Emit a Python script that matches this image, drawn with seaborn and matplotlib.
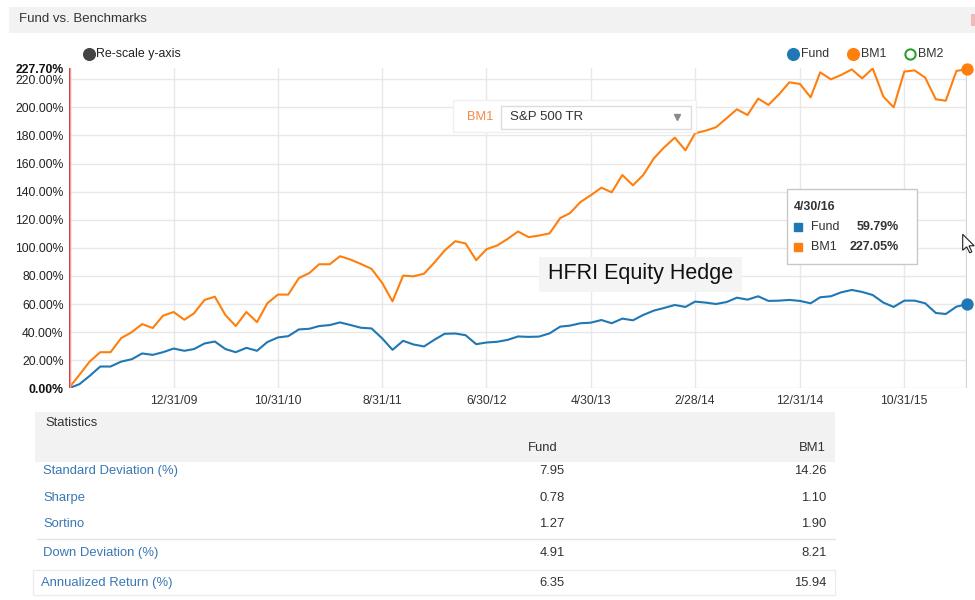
import pandas as pd
import matplotlib
matplotlib.use("Agg")
import matplotlib.pyplot as plt
import seaborn as sns
from matplotlib.patches import Rectangle, Polygon
from matplotlib.lines import Line2D

W, H = 975, 600

# monthly cumulative returns (%), Feb 2009 .. Apr 2016
dates = pd.date_range("2009-02-28", periods=87, freq=pd.offsets.MonthEnd())
fund = [0, 2.9, 8.8, 15.5, 15.5, 19.0, 20.7, 24.8, 23.8, 25.7,
        28.3, 26.7, 27.9, 31.9, 33.3, 27.9, 25.7, 28.8, 26.7, 32.9,
        36.2, 37.1, 41.9, 42.4, 44.3, 45.0, 46.9, 45.0, 43.1, 42.6,
        35.5, 27.4, 33.8, 31.2, 29.8, 34.7, 38.8, 39.0, 37.8, 31.4,
        32.6, 33.1, 34.5, 36.9, 36.6, 36.8, 39.1, 43.9, 44.6, 46.3,
        46.7, 48.6, 46.3, 49.6, 48.4, 52.2, 55.3, 57.2, 59.3, 57.9,
        61.7, 61.0, 60.0, 61.4, 64.5, 63.1, 65.5, 62.2, 62.4, 62.9,
        62.2, 60.5, 64.8, 65.5, 68.3, 70.0, 68.6, 66.4, 61.0, 57.9,
        62.4, 62.4, 60.5, 53.6, 52.9, 58.1, 59.79]
bm1 = [0, 9.5, 19.0, 25.7, 25.7, 35.7, 40.0, 45.7, 42.9, 51.7,
       54.3, 48.8, 53.3, 62.9, 65.2, 52.1, 44.3, 54.3, 47.1, 60.5,
       66.7, 66.7, 78.4, 82.1, 88.3, 88.3, 94.0, 91.6, 88.5, 85.0,
       75.0, 61.9, 80.2, 79.7, 81.6, 89.7, 98.1, 104.7, 103.1, 91.2,
       99.0, 101.6, 106.4, 111.6, 107.6, 108.7, 110.3, 121.2, 124.6, 132.6,
       137.4, 142.8, 139.5, 151.8, 144.5, 151.8, 163.7, 171.5, 178.4, 169.4,
       181.5, 183.4, 185.8, 192.2, 198.6, 194.5, 206.2, 201.7, 209.3, 217.8,
       216.6, 207.1, 224.9, 219.9, 223.0, 227.0, 220.6, 227.7, 207.6, 200.0,
       225.4, 226.3, 221.1, 205.7, 204.7, 225.9, 227.05]

tick_dates = pd.to_datetime(["2009-12-31", "2010-10-31", "2011-08-31", "2012-06-30",
                             "2013-04-30", "2014-02-28", "2014-12-31", "2015-10-31"])
y_grid = [0, 20, 40, 60, 80, 100, 120, 140, 160, 180, 200, 220]
y_max = 227.7

stat_names = ["Standard Deviation (%)", "Sharpe", "Sortino", "Down Deviation (%)",
              "Annualized Return (%)"]
fund_stats = ["7.95", "0.78", "1.27", "4.91", "6.35"]
bm1_stats = ["14.26", "1.10", "1.90", "8.21", "15.94"]

BLUE, ORANGE, GREEN = "#1f77b4", "#ff7f0e", "#2ca02c"
TXT = "#333333"

sns.set_theme(style="white")
plt.rcParams["font.family"] = ["Liberation Sans", "DejaVu Sans"]

fig = plt.figure(figsize=(W / 100, H / 100), dpi=100)


def fx(x):
    return x / W


def fy(y):
    return 1 - y / H


def box(x0, y0, x1, y1, **kw):
    fig.add_artist(Rectangle((fx(x0), fy(y1)), (x1 - x0) / W, (y1 - y0) / H,
                             transform=fig.transFigure, **kw))


def txt(x, y, s, **kw):
    kw.setdefault("va", "center")
    kw.setdefault("color", TXT)
    fig.text(fx(x), fy(y), s, **kw)


def dot(x, y, **kw):
    kw.setdefault("marker", "o")
    fig.add_artist(Line2D([fx(x)], [fy(y)], linestyle="none",
                          transform=fig.transFigure, **kw))


# header bar
box(9, 7, 975, 33, facecolor="#f2f2f2", edgecolor="none")
box(971, 14, 975, 26, facecolor="#f3b8b8", edgecolor="none")
txt(19, 19.5, "Fund vs. Benchmarks", fontsize=9.5)

# main chart
ax = fig.add_axes([fx(68.7), fy(388.3), (966.7 - 68.7) / W, (388.3 - 68.4) / H])
df = pd.DataFrame({"date": list(dates) * 2, "value": fund + bm1,
                   "series": ["Fund"] * len(fund) + ["BM1"] * len(bm1)})
sns.lineplot(data=df, x="date", y="value", hue="series",
             palette={"Fund": BLUE, "BM1": ORANGE}, linewidth=1.5,
             legend=False, ax=ax, zorder=3)
ax.set_xlim(dates[0], dates[-1])
ax.set_ylim(0, y_max)
for v in y_grid:
    ax.axhline(v, color="#e8e8e8", lw=1, zorder=1)
for d in tick_dates:
    ax.axvline(d, color="#e8e8e8", lw=1, zorder=1)
ax.axvline(dates[0], color="#f29a9a", lw=3.2, zorder=4)
ax.axvline(dates[0], color="#d9363e", lw=1.3, zorder=4)
ax.axvline(dates[-1], color="#d6d6d6", lw=2.4, zorder=2)
ax.scatter([dates[-1]], [bm1[-1]], s=62, color=ORANGE, zorder=6, clip_on=False)
ax.scatter([dates[-1]], [fund[-1]], s=62, color=BLUE, zorder=6, clip_on=False)

ax.set_xticks(tick_dates)
ax.set_xticklabels([f"{d.month}/{d.day}/{d:%y}" for d in tick_dates],
                   fontsize=8.7, color=TXT)
yt = y_grid + [y_max]
ax.set_yticks(yt)
ax.set_yticklabels([f"{v:.2f}%" for v in yt], fontsize=8.8, color="#222222")
for lab, v in zip(ax.get_yticklabels(), yt):
    if v in (0, y_max):
        lab.set_fontweight("bold")
        lab.set_color("#111111")
ax.tick_params(axis="x", length=0, pad=5)
ax.tick_params(axis="y", length=0, pad=3.5)
ax.set_xlabel("")
ax.set_ylabel("")
for s in ax.spines.values():
    s.set_visible(False)

# top legend + rescale toggle
dot(88.7, 53.7, ms=8.4, color="#444444")
txt(96.5, 53.7, "Re-scale y-axis", fontsize=8.9, color="#222222")
dot(792.7, 53.7, ms=8.4, color=BLUE)
txt(800.5, 53.7, "Fund", fontsize=8.9)
dot(852.7, 53.7, ms=8.4, color=ORANGE)
txt(860.5, 53.7, "BM1", fontsize=8.9)
dot(910, 53.7, ms=7.4, markerfacecolor="white", markeredgecolor=GREEN, markeredgewidth=1.5)
txt(918, 53.7, "BM2", fontsize=8.9)

# benchmark selector
box(452.7, 100, 696, 131.7, facecolor="white", edgecolor="#f0f0f0", lw=1)
box(501, 106, 690.7, 129.3, facecolor="white", edgecolor="#dcdcdc", lw=1)
txt(466.5, 117.3, "BM1", fontsize=9.3, color="#f7874a")
txt(510, 117.3, "S&P 500 TR", fontsize=9.5, color="#333333")
dot(677.3, 117.3, ms=4.5, marker="v", color="#8a8a8a")

# fund name label
box(539, 257.3, 741.7, 291.7, facecolor="#f4f4f4", edgecolor="none")
txt(547.7, 273.5, "HFRI Equity Hedge", fontsize=15.5, color="#111111")

# tooltip
box(786.7, 189.3, 916.7, 264.3, facecolor="white", edgecolor="#c8c8c8", lw=1)
txt(794, 206.7, "4/30/16", fontsize=8.9, fontweight="bold")
dot(798, 226.7, ms=5.6, marker="s", color=BLUE)
txt(811.3, 226.7, "Fund", fontsize=9)
txt(898.7, 226.7, f"{fund[-1]:.2f}%", fontsize=9, fontweight="bold", ha="right")
dot(798, 246.7, ms=5.6, marker="s", color=ORANGE)
txt(811.3, 246.7, "BM1", fontsize=9)
txt(898.7, 246.7, f"{bm1[-1]:.2f}%", fontsize=9, fontweight="bold", ha="right")

# mouse pointer
cur = [(0, 0), (0, 16), (4, 12.5), (7, 18.5), (9.2, 17.5), (6.3, 11.5), (11.5, 11.5)]
fig.add_artist(Polygon([(fx(962.7 + a), fy(234.3 + b)) for a, b in cur], closed=True,
                       transform=fig.transFigure, facecolor="white",
                       edgecolor="#222222", lw=0.8))

# statistics table
box(35, 412, 835, 461.5, facecolor="#f2f2f2", edgecolor="none")
txt(45, 423.3, "Statistics", fontsize=9.4)
txt(558, 448.3, "Fund", fontsize=9.4, ha="right")
txt(826, 448.3, "BM1", fontsize=9.4, ha="right")
fig.add_artist(Line2D([fx(37), fx(835)], [fy(538.5), fy(538.5)], color="#e4e4e4",
                      lw=1, transform=fig.transFigure))
box(33, 569.5, 835, 595, facecolor="white", edgecolor="#ececec", lw=1)
row_y = [470.7, 497.7, 524.3, 552.7, 582.7]
for name, fv, bv, y in zip(stat_names, fund_stats, bm1_stats, row_y):
    lx = 41 if name.startswith("Annualized") else 43
    txt(lx, y, name, fontsize=9.4, color="#3a77b3")
    txt(564.5, y, fv, fontsize=9.4, ha="right")
    txt(826.5, y, bv, fontsize=9.4, ha="right")

fig.savefig("out.png", dpi=100, facecolor="white")
